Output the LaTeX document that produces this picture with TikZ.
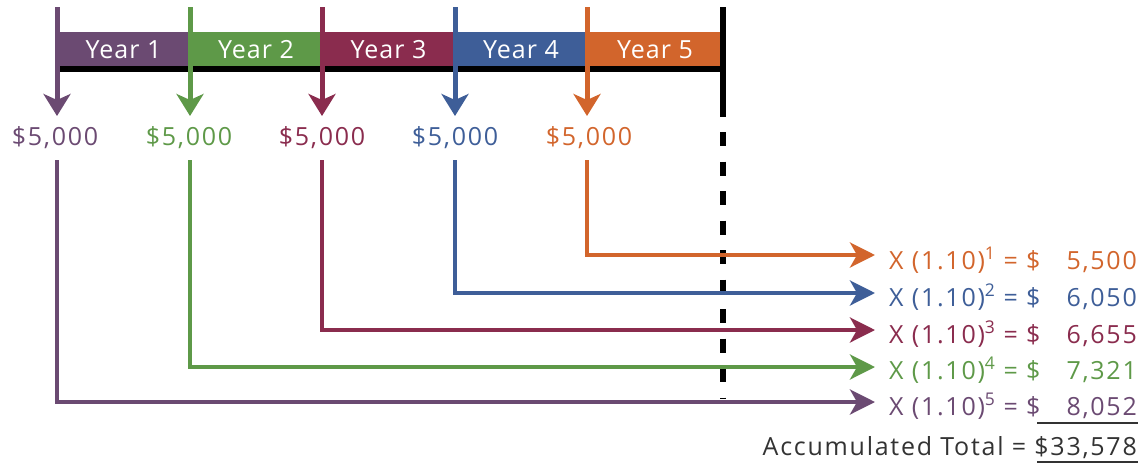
\documentclass[tikz,border=0pt]{standalone}
\usepackage{fontspec}
\setmainfont{Open Sans}[LetterSpace=4]
\usetikzlibrary{arrows.meta}
\definecolor{cpurple}{HTML}{6B4A72}
\definecolor{cgreen}{HTML}{5E9948}
\definecolor{cmaroon}{HTML}{8A2C4E}
\definecolor{cblue}{HTML}{3E5E98}
\definecolor{corange}{HTML}{D2652C}
\definecolor{cdark}{HTML}{333333}
\tikzset{
  seg/.style={inner sep=0pt, minimum height=35pt, text=white, font=\fontsize{25}{30}\selectfont},
  amount/.style={inner sep=0pt, anchor=base, font=\fontsize{25}{30}\selectfont\addfontfeatures{LetterSpace=7}},
  rtext/.style={inner sep=0pt, anchor=base west, font=\fontsize{25}{30}\selectfont\addfontfeatures{LetterSpace=7}},
  rnum/.style={inner sep=0pt, anchor=base east, font=\fontsize{25}{30}\selectfont\addfontfeatures{LetterSpace=7}},
  total/.style={inner sep=0pt, anchor=base east, text=cdark, font=\fontsize{25}{30}\selectfont\addfontfeatures{LetterSpace=7}},
  downarrow/.style={line width=5pt, -{Stealth[length=22pt,width=27pt,inset=6pt]}},
  flowline/.style={line width=4pt, -{Stealth[length=25pt,width=25pt,inset=7pt]}},
}
\begin{document}
\begin{tikzpicture}[x=1pt,y=-1pt]
\useasboundingbox (0,0) rectangle (1142,466);
% bar segments
\node[seg, fill=cpurple, minimum width=133pt] (y1) at (123.5,49.5) {Year 1};
\node[seg, fill=cgreen,  minimum width=132pt] (y2) at (256,49.5) {Year 2};
\node[seg, fill=cmaroon, minimum width=133pt] (y3) at (388.5,49.5) {Year 3};
\node[seg, fill=cblue,   minimum width=132pt] (y4) at (521,49.5) {Year 4};
\node[seg, fill=corange, minimum width=136pt] (y5) at (655,49.5) {Year 5};
\fill[black] (y1.south west) ++(0,-1) rectangle ([yshift=-5pt]y5.south east);
% end marker
\coordinate (k0) at (723,7);
\coordinate (k1) at (723,117);
\coordinate (k2) at (723,132);
\coordinate (k3) at (723,399);
\draw[line width=6pt, black] (k0) -- (k1);
\draw[line width=6pt, black, dash pattern=on 14pt off 15.5pt] (k2) -- (k3);
% tops
\coordinate (t1) at (57,7);
\coordinate (t2) at (190,7);
\coordinate (t3) at (322,7);
\coordinate (t4) at (455,7);
\coordinate (t5) at (587,7);
\coordinate (h1) at (57,116);
\coordinate (h2) at (190,116);
\coordinate (h3) at (322,116);
\coordinate (h4) at (455,116);
\coordinate (h5) at (587,116);
\draw[downarrow, cpurple] (t1) -- (h1);
\draw[downarrow, cgreen]  (t2) -- (h2);
\draw[downarrow, cmaroon] (t3) -- (h3);
\draw[downarrow, cblue]   (t4) -- (h4);
\draw[downarrow, corange] (t5) -- (h5);
% amounts
\node[amount, text=cpurple] (a1) at (55,145) {\$5,000};
\node[amount, text=cgreen]  (a2) at (189,145) {\$5,000};
\node[amount, text=cmaroon] (a3) at (322,145) {\$5,000};
\node[amount, text=cblue]   (a4) at (455,145) {\$5,000};
\node[amount, text=corange] (a5) at (589,145) {\$5,000};
% starts below amounts
\coordinate (s1) at (57,160);
\coordinate (s2) at (190,160);
\coordinate (s3) at (322,160);
\coordinate (s4) at (455,160);
\coordinate (s5) at (587,160);
% arrow ends
\coordinate (e5) at (875,255);
\coordinate (e4) at (875,293);
\coordinate (e3) at (875,330);
\coordinate (e2) at (875,367);
\coordinate (e1) at (875,402);
\draw[flowline, corange] (s5) |- (e5);
\draw[flowline, cblue]   (s4) |- (e4);
\draw[flowline, cmaroon] (s3) |- (e3);
\draw[flowline, cgreen]  (s2) |- (e2);
\draw[flowline, cpurple] (s1) |- (e1);
% right texts
\node[rtext, text=corange] (r5) at (889,269) {X (1.10)\textsuperscript{1} = \$};
\node[rtext, text=cblue]   (r4) at (889,306) {X (1.10)\textsuperscript{2} = \$};
\node[rtext, text=cmaroon] (r3) at (889,343) {X (1.10)\textsuperscript{3} = \$};
\node[rtext, text=cgreen]  (r2) at (889,379) {X (1.10)\textsuperscript{4} = \$};
\node[rtext, text=cpurple] (r1) at (889,415) {X (1.10)\textsuperscript{5} = \$};
\node[rnum, text=corange] (n5) at (1137,269) {5,500};
\node[rnum, text=cblue]   (n4) at (1137,306) {6,050};
\node[rnum, text=cmaroon] (n3) at (1137,343) {6,655};
\node[rnum, text=cgreen]  (n2) at (1137,379) {7,321};
\node[rnum, text=cpurple] (n1) at (1137,415) {8,052};
% total
\coordinate (u1) at (1037,423);
\coordinate (u2) at (1138,423);
\draw[line width=2.5pt, cdark] (u1) -- (u2);
\node[total] (tot) at (1137,455) {Accumulated Total = \$33,578};
\coordinate (w1) at (1037,462);
\coordinate (w2) at (1138,462);
\draw[line width=2.5pt, cdark] (w1) -- (w2);
\end{tikzpicture}
\end{document}
